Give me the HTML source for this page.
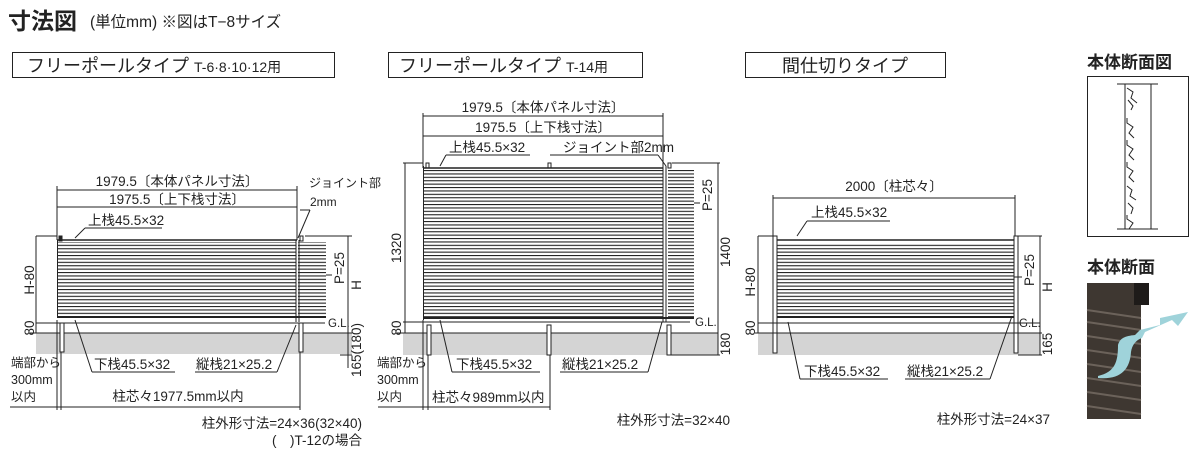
<!DOCTYPE html>
<html><head><meta charset="utf-8"><style>
html,body{margin:0;padding:0;background:#fff;}
svg{display:block;font-family:"Liberation Sans","Noto Sans CJK JP",sans-serif;}
text{fill:#222;}
</style></head><body>
<svg width="1200" height="457" viewBox="0 0 1200 457" xmlns="http://www.w3.org/2000/svg">
<defs>
<pattern id="sl" x="0" y="0" width="4" height="3.4" patternUnits="userSpaceOnUse">
<rect x="0" y="0" width="4" height="1.1" fill="#222"/>
</pattern>
</defs>
<!-- header -->
<text x="8" y="29" font-size="23" font-weight="bold" fill="#111">寸法図</text>
<text x="90" y="27" font-size="15.5">(単位mm) ※図はT−8サイズ</text>
<rect x="12.5" y="52.5" width="322" height="25" fill="none" stroke="#222"/>
<text x="27" y="72" font-size="18">フリーポールタイプ <tspan font-size="14">T-6·8·10·12用</tspan></text>
<rect x="388.5" y="52.5" width="254" height="25" fill="none" stroke="#222"/>
<text x="399" y="72" font-size="18">フリーポールタイプ <tspan font-size="14">T-14用</tspan></text>
<rect x="745.5" y="52.5" width="200" height="25" fill="none" stroke="#222"/>
<text x="845" y="72" font-size="18" text-anchor="middle">間仕切りタイプ</text>

<g stroke="#222" stroke-width="1" fill="none">
<!-- ===== Diagram 1 ===== -->
<rect x="36" y="333" width="316" height="21" fill="#d4d4d4" stroke="none"/>
<line x1="57" y1="190" x2="297" y2="190"/>
<line x1="57" y1="207" x2="297" y2="207"/>
<line x1="57" y1="186" x2="57" y2="240"/>
<line x1="297" y1="186" x2="297" y2="240"/>
<line x1="85" y1="228" x2="162" y2="228"/><line x1="85" y1="228" x2="75" y2="238"/>
<line x1="300" y1="210" x2="310" y2="210"/><line x1="310" y1="210" x2="298" y2="238"/>
<rect x="57" y="242" width="239" height="75" fill="url(#sl)" stroke="none"/>
<rect x="298" y="242" width="28" height="75" fill="url(#sl)" stroke="none"/>
<line x1="57" y1="240" x2="297" y2="240" stroke-width="1.5"/>
<line x1="57" y1="317" x2="326" y2="317" stroke-width="2"/>
<line x1="57.5" y1="240" x2="57.5" y2="318"/>
<line x1="296" y1="240" x2="296" y2="322"/><line x1="299" y1="240" x2="299" y2="322"/>
<rect x="59" y="236" width="3" height="5" fill="#222"/>
<rect x="300" y="236" width="3" height="5"/>
<line x1="36" y1="236" x2="57" y2="236"/>
<line x1="36" y1="236" x2="36" y2="333"/>
<line x1="36" y1="323" x2="325" y2="323"/>
<line x1="30" y1="333" x2="352" y2="333"/>
<line x1="305" y1="236" x2="352" y2="236"/>
<line x1="348" y1="236" x2="348" y2="368"/>
<line x1="340" y1="355" x2="352" y2="355"/>
<line x1="326" y1="275" x2="332" y2="275"/>
<rect x="60" y="323" width="4" height="29" fill="#fff"/>
<rect x="299" y="323" width="4" height="29" fill="#fff"/>
<line x1="75" y1="320" x2="92" y2="372"/><line x1="92" y1="372" x2="175" y2="372"/>
<line x1="296" y1="325" x2="277" y2="372"/><line x1="195" y1="372" x2="277" y2="372"/>
<line x1="57" y1="320" x2="57" y2="410"/><line x1="61" y1="352" x2="61" y2="410"/>
<line x1="300" y1="352" x2="300" y2="410"/>
<line x1="10" y1="407" x2="300" y2="407"/>

<!-- ===== Diagram 2 ===== -->
<rect x="403" y="333" width="315" height="22" fill="#d4d4d4" stroke="none"/>
<line x1="423" y1="116" x2="663" y2="116"/>
<line x1="423" y1="136" x2="663" y2="136"/>
<line x1="423" y1="113" x2="423" y2="168"/>
<line x1="663" y1="113" x2="663" y2="168"/>
<line x1="446" y1="155" x2="530" y2="155"/><line x1="446" y1="155" x2="440" y2="166"/>
<line x1="550" y1="155" x2="658" y2="155"/><line x1="658" y1="155" x2="666" y2="166"/>
<rect x="423" y="170" width="240" height="148" fill="url(#sl)" stroke="none"/>
<rect x="668" y="170" width="26" height="148" fill="url(#sl)" stroke="none"/>
<line x1="423" y1="168" x2="663" y2="168" stroke-width="1.5"/>
<line x1="423" y1="318" x2="694" y2="318" stroke-width="2"/>
<line x1="423.5" y1="166" x2="423.5" y2="320"/>
<line x1="663" y1="166" x2="663" y2="322"/><line x1="666" y1="166" x2="666" y2="322"/>
<rect x="426" y="163" width="3" height="5"/><rect x="548" y="163" width="3" height="5"/><rect x="668" y="163" width="3" height="5"/>
<line x1="403" y1="163" x2="423" y2="163"/>
<line x1="405" y1="163" x2="405" y2="333"/>
<line x1="403" y1="322" x2="690" y2="322"/>
<line x1="397" y1="333" x2="718" y2="333"/>
<line x1="672" y1="163" x2="720" y2="163"/>
<line x1="718" y1="163" x2="718" y2="355"/>
<line x1="668" y1="355" x2="720" y2="355"/>
<line x1="694" y1="203" x2="700" y2="203"/>
<rect x="427" y="325" width="4" height="30" fill="#fff"/>
<rect x="547" y="325" width="4" height="30" fill="#fff"/>
<rect x="667" y="325" width="4" height="30" fill="#fff"/>
<line x1="440" y1="320" x2="452" y2="372"/><line x1="452" y1="372" x2="540" y2="372"/>
<line x1="662" y1="322" x2="648" y2="372"/><line x1="560" y1="372" x2="648" y2="372"/>
<line x1="423" y1="320" x2="423" y2="410"/><line x1="428" y1="355" x2="428" y2="410"/>
<line x1="550" y1="355" x2="550" y2="410"/>
<line x1="378" y1="407" x2="550" y2="407"/>

<!-- ===== Diagram 3 ===== -->
<rect x="758" y="333" width="282" height="22" fill="#d4d4d4" stroke="none"/>
<line x1="773" y1="198" x2="1015" y2="198"/>
<line x1="773" y1="195" x2="773" y2="236"/>
<line x1="1015" y1="195" x2="1015" y2="236"/>
<line x1="807" y1="221" x2="890" y2="221"/><line x1="807" y1="221" x2="797" y2="236"/>
<rect x="777" y="243" width="237" height="74" fill="url(#sl)" stroke="none"/>
<line x1="777" y1="240" x2="1014" y2="240" stroke-width="1.5"/>
<line x1="777" y1="317" x2="1014" y2="317" stroke-width="2"/>
<rect x="773" y="236" width="4" height="117" fill="#fff"/>
<rect x="1014" y="236" width="4" height="117" fill="#fff"/>
<line x1="758" y1="236" x2="773" y2="236"/>
<line x1="758" y1="236" x2="758" y2="333"/>
<line x1="758" y1="323" x2="1040" y2="323"/>
<line x1="755" y1="333" x2="1042" y2="333"/>
<line x1="1018" y1="236" x2="1042" y2="236"/>
<line x1="1040" y1="236" x2="1040" y2="355"/>
<line x1="1018" y1="355" x2="1042" y2="355"/>
<line x1="1014" y1="277" x2="1022" y2="277"/>
<line x1="788" y1="322" x2="800" y2="379"/><line x1="800" y1="379" x2="888" y2="379"/>
<line x1="1012" y1="316" x2="990" y2="379"/><line x1="905" y1="379" x2="990" y2="379"/>

<!-- section box -->
<rect x="1087.5" y="76.5" width="101" height="160"/>
<line x1="1117" y1="84" x2="1158" y2="84"/><line x1="1117" y1="229" x2="1158" y2="229"/>
<line x1="1125" y1="84" x2="1125" y2="229"/><line x1="1151" y1="84" x2="1151" y2="229"/>
<path d="M1127 88 l6 4 -2 6 6 5 M1128 100 l5 6 -2 4 M1127 118 l0 5 6 4 -4 6 5 5 M1127 140 l0 5 6 4 -4 6 5 5 M1127 162 l0 5 6 4 -4 6 5 5 M1127 186 l5 4 -2 6 6 4 M1128 203 l5 5 -2 6 M1127 215 l0 4 6 4 -4 6"/>
</g>

<g font-size="13.5">
<!-- diagram 1 text -->
<text x="177" y="186" text-anchor="middle">1979.5〔本体パネル寸法〕</text>
<text x="177" y="204" text-anchor="middle">1975.5〔上下栈寸法〕</text>
<text x="88" y="225">上栈45.5×32</text>
<text x="309" y="187" font-size="12">ジョイント部</text>
<text x="310" y="206" font-size="12">2mm</text>
<text x="94" y="369">下栈45.5×32</text>
<text x="196" y="369">縦栈21×25.2</text>
<text x="11" y="367" font-size="12.5">端部から</text>
<text x="11" y="384" font-size="12.5">300mm</text>
<text x="11" y="401" font-size="12.5">以内</text>
<text x="178" y="401" text-anchor="middle">柱芯々1977.5mm以内</text>
<text x="362" y="428" text-anchor="end">柱外形寸法=24×36(32×40)</text>
<text x="362" y="445" text-anchor="end">(　)T-12の場合</text>
<text x="328" y="327" font-size="11.5">G.L.</text>
<text transform="translate(34,280) rotate(-90)" text-anchor="middle">H-80</text>
<text transform="translate(34,328) rotate(-90)" text-anchor="middle">80</text>
<text transform="translate(344,268) rotate(-90)" text-anchor="middle">P=25</text>
<text transform="translate(361,285) rotate(-90)" text-anchor="middle">H</text>
<text transform="translate(361,350) rotate(-90)" text-anchor="middle">165(180)</text>

<!-- diagram 2 text -->
<text x="543" y="112" text-anchor="middle">1979.5〔本体パネル寸法〕</text>
<text x="543" y="132" text-anchor="middle">1975.5〔上下栈寸法〕</text>
<text x="449" y="152">上栈45.5×32</text>
<text x="563" y="152">ジョイント部2mm</text>
<text x="456" y="369">下栈45.5×32</text>
<text x="562" y="369">縦栈21×25.2</text>
<text x="377" y="367" font-size="12.5">端部から</text>
<text x="377" y="384" font-size="12.5">300mm</text>
<text x="377" y="401" font-size="12.5">以内</text>
<text x="432" y="402">柱芯々989mm以内</text>
<text x="730" y="425" text-anchor="end">柱外形寸法=32×40</text>
<text x="695" y="326" font-size="11.5">G.L.</text>
<text transform="translate(401,248) rotate(-90)" text-anchor="middle">1320</text>
<text transform="translate(401,328) rotate(-90)" text-anchor="middle">80</text>
<text transform="translate(712,195) rotate(-90)" text-anchor="middle">P=25</text>
<text transform="translate(730,252) rotate(-90)" text-anchor="middle">1400</text>
<text transform="translate(730,344) rotate(-90)" text-anchor="middle">180</text>

<!-- diagram 3 text -->
<text x="894" y="191" text-anchor="middle">2000〔柱芯々〕</text>
<text x="811" y="217">上栈45.5×32</text>
<text x="804" y="376">下栈45.5×32</text>
<text x="907" y="376">縦栈21×25.2</text>
<text x="1050" y="424" text-anchor="end">柱外形寸法=24×37</text>
<text x="1019" y="327" font-size="11.5">G.L.</text>
<text transform="translate(755,282) rotate(-90)" text-anchor="middle">H-80</text>
<text transform="translate(755,328) rotate(-90)" text-anchor="middle">80</text>
<text transform="translate(1034,270) rotate(-90)" text-anchor="middle">P=25</text>
<text transform="translate(1052,287) rotate(-90)" text-anchor="middle">H</text>
<text transform="translate(1052,344) rotate(-90)" text-anchor="middle">165</text>
</g>

<!-- right side -->
<text x="1087" y="68" font-size="17" font-weight="bold" fill="#111">本体断面図</text>
<text x="1087" y="273" font-size="17" font-weight="bold" fill="#111">本体断面</text>
<rect x="1087" y="283" width="54" height="136" fill="#3e3731"/>
<rect x="1134" y="283" width="15" height="22" fill="#1e1b19"/>
<g stroke="#6b625a" stroke-width="2">
<line x1="1087" y1="310" x2="1141" y2="318"/><line x1="1087" y1="322" x2="1141" y2="330"/>
<line x1="1087" y1="336" x2="1141" y2="344"/><line x1="1087" y1="350" x2="1141" y2="358"/>
<line x1="1087" y1="364" x2="1141" y2="372"/><line x1="1087" y1="378" x2="1141" y2="386"/>
<line x1="1087" y1="392" x2="1141" y2="400"/><line x1="1087" y1="406" x2="1141" y2="414"/>
</g>
<path d="M1098 376 C1115 372 1118 362 1118 345 C1120 338 1125 336 1135 335 L1140 330 L1160 325 L1160 318 L1188 312 L1178 326 L1172 320 L1145 332 L1142 338 C1136 340 1132 345 1131 352 C1130 370 1120 380 1098 378 Z" fill="#9fd3da"/>
</svg>
</body></html>
